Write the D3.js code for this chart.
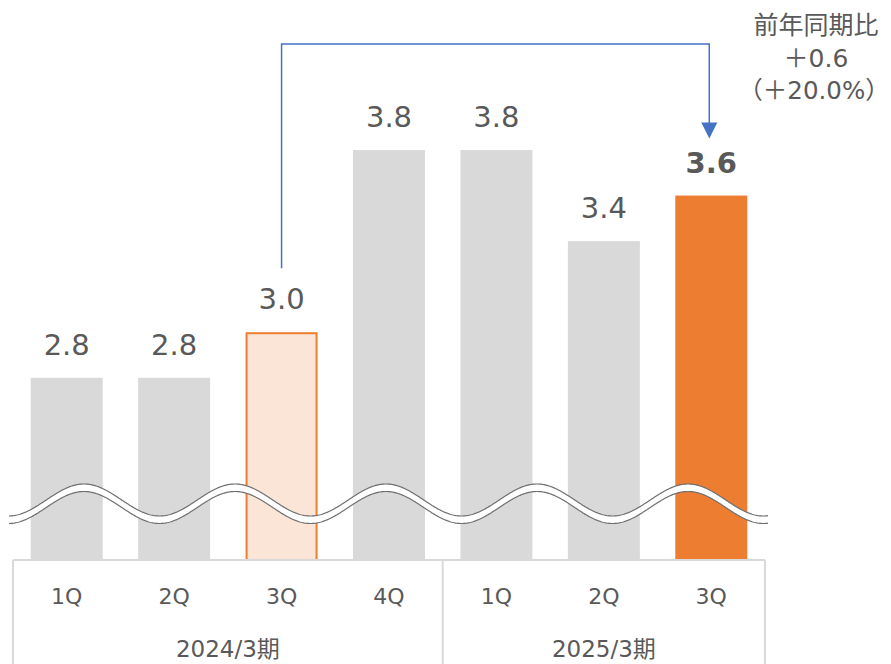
<!DOCTYPE html>
<html><head><meta charset="utf-8">
<script src="https://cdn.jsdelivr.net/npm/d3@7"></script>
<style>
html,body{margin:0;padding:0;background:#fff;}
text{font-family:"DejaVu Sans","Noto Sans CJK JP",sans-serif;fill:#595959;}
</style></head>
<body>
<svg id="chart" width="891" height="664"></svg>
<script>
const keys = ["24-1Q","24-2Q","24-3Q","24-4Q","25-1Q","25-2Q","25-3Q"];
const quarterLabels = ["1Q","2Q","3Q","4Q","1Q","2Q","3Q"];
const values = [2.8, 2.8, 3.0, 3.8, 3.8, 3.4, 3.6];
const valueLabels = ["2.8","2.8","3.0","3.8","3.8","3.4","3.6"];
const periods = ["2024/3期","2025/3期"];
const annotation = ["前年同期比","＋0.6","（＋20.0%）"];
const compareFrom = 2, compareTo = 6;

const svg = d3.select("#chart");
const x = d3.scaleBand().domain(keys).range([13,765]).paddingInner(0.33).paddingOuter(0.165);
const y = d3.scaleLinear().domain([2.0,3.8]).range([560,150]);

const fillFor = i => i===6 ? "#ED7D31" : (i===2 ? "#FBE5D6" : "#D9D9D9");

svg.append("g").selectAll("rect").data(values).join("rect")
  .attr("x",(d,i)=>x(keys[i]) + (i===2?1:0))
  .attr("width",(d,i)=>x.bandwidth() - (i===2?2:0))
  .attr("y",(d,i)=>y(d) + (i===2?1:0))
  .attr("height",(d,i)=>y.range()[0]-y(d) - (i===2?1:0))
  .attr("fill",(d,i)=>fillFor(i))
  .attr("stroke",(d,i)=>i===2?"#ED7D31":"none")
  .attr("stroke-width",2);

// value labels
svg.append("g").selectAll("text").data(values).join("text")
  .attr("x",(d,i)=>x(keys[i])+x.bandwidth()/2)
  .attr("y",d=>y(d)-23)
  .attr("text-anchor","middle")
  .attr("font-size",29)
  .attr("font-weight",(d,i)=>i===6?"bold":"normal")
  .text((d,i)=>valueLabels[i]);

// wave (axis break decoration)
const w0 = 9, w1 = 768, per = 151, amp = 16, cy = 500, gap = 7.5, px = 84;
const xs = d3.range(w0, w1+0.5, 1);
const wy = xv => cy - amp*Math.cos(2*Math.PI*(xv-px)/per);
const upper = xs.map(v=>[v, wy(v)]);
const lower = xs.map(v=>[v, wy(v)+gap]);
const line = d3.line();
svg.append("path").attr("d", line(upper.concat(lower.slice().reverse()))+"Z").attr("fill","#fff");
svg.append("path").attr("d", line(upper)).attr("fill","none").attr("stroke","#6f6f6f").attr("stroke-width",1.2);
svg.append("path").attr("d", line(lower)).attr("fill","none").attr("stroke","#6f6f6f").attr("stroke-width",1.2);

// axis frame
const ax = svg.append("g").attr("stroke","#D9D9D9").attr("stroke-width",2);
ax.append("line").attr("x1",13).attr("x2",765).attr("y1",560).attr("y2",560);
const left = x.range()[0], right = x.range()[1];
const divider = (x(keys[3])+x.bandwidth() + x(keys[4]))/2;
[left, divider, right].forEach(v=>{
  ax.append("line").attr("x1",v).attr("x2",v).attr("y1",560).attr("y2",664);
});

// category labels
svg.append("g").selectAll("text").data(quarterLabels).join("text")
  .attr("x",(d,i)=>x(keys[i])+x.bandwidth()/2)
  .attr("y",604)
  .attr("text-anchor","middle")
  .attr("font-size",22)
  .text(d=>d);

const bounds = [left, divider, right];
svg.append("g").selectAll("text").data(periods).join("text")
  .attr("x",(d,i)=>(bounds[i]+bounds[i+1])/2)
  .attr("y",657)
  .attr("text-anchor","middle")
  .attr("font-size",23)
  .text(d=>d);

// comparison arrow
const xa = x(keys[compareFrom])+x.bandwidth()/2;
const xb = x(keys[compareTo])+x.bandwidth()/2 - 2;
const yStart = y(values[compareFrom]) - 64;
const yTop = 44;
const yEnd = y(values[compareTo]) - 57;
svg.append("path")
  .attr("d",`M${xa},${yStart}V${yTop}H${xb}V${yEnd-15}`)
  .attr("fill","none").attr("stroke","#4472C4").attr("stroke-width",1.5);
svg.append("path")
  .attr("d",`M${xb-8},${yEnd-16}L${xb+8},${yEnd-16}L${xb},${yEnd}Z`)
  .attr("fill","#4472C4");

// annotation
const ay = [34, 67, 99];
const ax2 = [816, 816, 814];
const afs = [25, 25, 24.5];
svg.append("g").selectAll("text").data(annotation).join("text")
  .attr("x",(d,i)=>ax2[i])
  .attr("y",(d,i)=>ay[i])
  .attr("text-anchor","middle")
  .attr("font-size",(d,i)=>afs[i])
  .text(d=>d);
</script>
</body></html>
